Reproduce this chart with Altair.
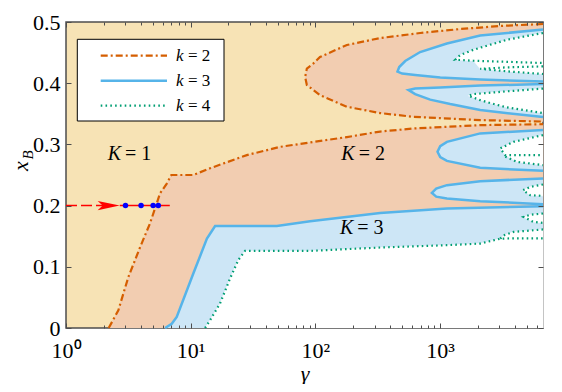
import altair as alt
import pandas as pd

# ------------------------------------------------------------------ data
G_MAX = 6700  # right end of gamma axis

# k = 2 boundary (dash-dot): lower-left edge and top of lower K=2 zone
K2_A_G = [2.2, 2.63, 3.16, 3.93, 4.72, 5.68, 6.43, 7.0, 10.5, 14.3, 28.2, 52.2, 179, 331, 610, 2100, 6700]
K2_A_X = [0.0, 0.029, 0.083, 0.132, 0.171, 0.220, 0.236, 0.250, 0.250, 0.261, 0.2825, 0.296, 0.312, 0.321, 0.326, 0.3315, 0.333]
# k = 2 C-shaped boundary (upper branch -> tip -> lower branch)
K2_C_G = [6700, 3041, 1452, 693, 331, 179, 109, 96.6, 85.5, 82.8, 85.5, 96.6, 109, 179, 331, 610, 2100, 6700]
K2_C_X = [0.4967, 0.4935, 0.4885, 0.482, 0.4738, 0.4624, 0.4428, 0.4324, 0.424, 0.41, 0.397, 0.3888, 0.3806, 0.3615, 0.3512, 0.3451, 0.3397, 0.3373]

# k = 3 boundaries (solid)
K3_MAIN_G = [6.23, 7.05, 7.73, 10.5, 13.5, 15.7, 49.1, 90.8, 331, 1136, 6700]
K3_MAIN_X = [0.0, 0.007, 0.018, 0.089, 0.146, 0.1667, 0.1667, 0.1745, 0.188, 0.1953, 0.199]
K3_A_G = [6700, 2100, 1136, 932, 861, 932, 1136, 2100, 6700]
K3_A_X = [0.2444, 0.2399, 0.2334, 0.2277, 0.2208, 0.2146, 0.2116, 0.2072, 0.2023]
K3_B_G = [6700, 2100, 1136, 1004, 955, 1004, 1136, 2100, 6700]
K3_B_X = [0.3234, 0.318, 0.3042, 0.2972, 0.2879, 0.2792, 0.2731, 0.2617, 0.2568]
K3_C_G = [6700, 2100, 1004, 632, 559, 632, 834, 1207, 2100, 6700]
K3_C_X = [0.3986, 0.3961, 0.3929, 0.3912, 0.3888, 0.3822, 0.3732, 0.3659, 0.3561, 0.3446]
K3_D_G = [6700, 2100, 1136, 693, 526, 471, 456, 497, 632, 1004, 2100, 6700]
K3_D_X = [0.4877, 0.4779, 0.4648, 0.4509, 0.4362, 0.4264, 0.419, 0.4158, 0.4133, 0.4092, 0.406, 0.4027]

# k = 4 boundaries (dotted)
K4_MAIN_G = [13.05, 14.3, 17.2, 20.7, 24.1, 27.3, 90.8, 331, 1136, 2100, 3041, 3890, 6700]
K4_MAIN_X = [0.0, 0.0126, 0.040, 0.081, 0.111, 0.126, 0.126, 0.1315, 0.1353, 0.138, 0.1459, 0.1465, 0.1465]
K4_FINGER_G = [3041, 3300, 3890, 6700]
K4_FINGER_X = [0.1459, 0.152, 0.157, 0.161]
K4_E_G = [6700, 5297, 4677, 5598, 6700]
K4_E_X = [0.1871, 0.185, 0.1815, 0.1734, 0.1717]
K4_A_G = [6700, 5297, 4627, 5297, 6700]
K4_A_X = [0.2345, 0.2306, 0.2252, 0.217, 0.2159]
K4_B_G = [6700, 3890, 3041, 3337, 6700]
K4_B_X = [0.3152, 0.3042, 0.2934, 0.2825, 0.2825]
K4_B2_G = [3337, 4142, 6700]
K4_B2_X = [0.280, 0.2715, 0.2661]
K4_C_G = [6700, 3443, 1857, 1693, 2100, 2529, 3443, 6700]
K4_C_X = [0.3912, 0.3867, 0.3822, 0.3795, 0.3724, 0.3675, 0.3605, 0.3512]
K4_D_G = [6700, 3443, 1857, 1452, 1324, 1857, 6700]
K4_D_X = [0.482, 0.471, 0.4547, 0.446, 0.4383, 0.4367, 0.433]
K4_D2_G = [6700, 3443, 2100, 3443, 6700]
K4_D2_X = [0.4275, 0.4259, 0.4236, 0.4194, 0.415]

# region labels  "K = n"
LABEL_VAR = ["K", "K", "K"]
LABEL_REST = ["= 1", "= 2", "= 3"]
LABEL_G = [3.26, 244, 238]
LABEL_X = [0.285, 0.285, 0.163]

# trajectory at x_B = 0.2
TRAJ_X = 0.2
TRAJ_DASH_G = [1.0, 2.2]
TRAJ_SOLID_G = [2.7, 6.8]
ARROW_G = [2.2]
DOTS_G = [3.0, 4.0, 5.0, 5.5]

LEGEND_VAR = "k"
LEGEND_REST = ["= 2", "= 3", "= 4"]

X_MAJOR = [1, 10, 100, 1000]
X_MINOR = [2, 3, 4, 5, 6, 7, 8, 9, 20, 30, 40, 50, 60, 70, 80, 90,
           200, 300, 400, 500, 600, 700, 800, 900, 2000, 3000, 4000, 5000, 6000]
Y_TICKS = [0, 0.1, 0.2, 0.3, 0.4, 0.5]

# ------------------------------------------------------------------ style
TAN = "#F7E3B5"
SALMON = "#F2CDB1"
LBLUE = "#CDE6F6"
ORANGE = "#D55E00"
BLUE = "#56B4E9"
GREEN = "#009E73"
FRAME = "#4d4d4d"
FONT = "Liberation Serif"
DASH_K2 = [7, 3, 2, 3]
DASH_K4 = [1.6, 3.2]


def frame(curves):
    rows = []
    for cid, gs, xs in curves:
        for i, (g, x) in enumerate(zip(gs, xs)):
            rows.append({"id": cid, "g": g, "x": x, "i": i})
    return pd.DataFrame(rows)


XS = alt.Scale(type="log", domain=[1, G_MAX], nice=False)
YS = alt.Scale(domain=[0, 0.5], nice=False, zero=False)


def xy(ax=None, ay=None):
    return dict(x=alt.X("g:Q", scale=XS, axis=ax), y=alt.Y("x:Q", scale=YS, axis=ay))


def tick_axis(values, orient, size):
    return alt.Axis(values=values, orient=orient, offset=-size, tickSize=size,
                    labels=False, domain=False, grid=False, title=None,
                    tickColor=FRAME, tickWidth=1, zindex=1)


ax_x_labels = alt.Axis(values=X_MAJOR, orient="bottom",
                       labelExpr="datum.value == 1 ? '10⁰' : datum.value == 10 ? '10¹' : datum.value == 100 ? '10²' : '10³'",
                       labelFont=FONT, labelFontSize=22, labelColor="black", labelPadding=12,
                       labelFlush=False, labelOverlap=False,
                       ticks=False, tickSize=0, domain=False, grid=False,
                       title="γ", titleFont=FONT, titleFontSize=22, titleFontStyle="italic",
                       titleFontWeight="normal", titleColor="black", titleY=52,
                       titleBaseline="alphabetic")
ax_y_labels = alt.Axis(values=Y_TICKS, orient="left",
                       labelExpr="datum.value == 0 ? '0' : format(datum.value, '.1f')",
                       labelFont=FONT, labelFontSize=22, labelColor="black", labelPadding=6,
                       labelFlush=False, labelOverlap=False,
                       ticks=False, tickSize=0, domain=False, grid=False, title=None)

# ------------------------------------------------------------------ fills
salmon_df = frame([
    ("a", K2_A_G + [G_MAX], K2_A_X + [0.0]),
    ("c", K2_C_G, K2_C_X),
])
blue_df = frame([
    ("m", K3_MAIN_G + [G_MAX], K3_MAIN_X + [0.0]),
    ("a", K3_A_G, K3_A_X), ("b", K3_B_G, K3_B_X),
    ("c", K3_C_G, K3_C_X), ("d", K3_D_G, K3_D_X),
])
white_df = frame([
    ("m", K4_MAIN_G[:11] + K4_FINGER_G[1:] + [G_MAX], K4_MAIN_X[:11] + K4_FINGER_X[1:] + [0.0]),
    ("e", K4_E_G, K4_E_X), ("a", K4_A_G, K4_A_X),
    ("b", K4_B_G[:4] + K4_B2_G[1:], K4_B_X[:4] + K4_B2_X[1:]),
    ("c", K4_C_G, K4_C_X),
    ("d", K4_D_G[:6] + K4_D2_G[2:], K4_D_X[:6] + K4_D2_X[2:]),
])


def fill_layer(df, color, ax=None, ay=None):
    return alt.Chart(df).mark_line(fill=color, color=color, strokeWidth=0.6).encode(
        **xy(ax, ay), detail="id:N", order="i:Q")


salmon = fill_layer(salmon_df, SALMON, ax_x_labels, ax_y_labels)
blue = fill_layer(blue_df, LBLUE, tick_axis(X_MAJOR, "bottom", 5), tick_axis(Y_TICKS, "left", 5))
white = fill_layer(white_df, "white", tick_axis(X_MINOR, "bottom", 3), tick_axis(Y_TICKS, "right", 5))

# ------------------------------------------------------------------ lines
k2_df = frame([("a", K2_A_G, K2_A_X), ("c", K2_C_G, K2_C_X)])
k3_df = frame([("m", K3_MAIN_G, K3_MAIN_X), ("a", K3_A_G, K3_A_X), ("b", K3_B_G, K3_B_X),
               ("c", K3_C_G, K3_C_X), ("d", K3_D_G, K3_D_X)])
k4_df = frame([("m", K4_MAIN_G, K4_MAIN_X), ("f", K4_FINGER_G, K4_FINGER_X),
               ("e", K4_E_G, K4_E_X), ("a", K4_A_G, K4_A_X),
               ("b", K4_B_G, K4_B_X), ("b2", K4_B2_G, K4_B2_X),
               ("c", K4_C_G, K4_C_X), ("d", K4_D_G, K4_D_X), ("d2", K4_D2_G, K4_D2_X)])

k2_lines = alt.Chart(k2_df).mark_line(color=ORANGE, strokeDash=DASH_K2, strokeWidth=2.2).encode(
    **xy(tick_axis(X_MAJOR, "top", 5)), detail="id:N", order="i:Q")
k3_lines = alt.Chart(k3_df).mark_line(color=BLUE, strokeWidth=2.5).encode(
    **xy(tick_axis(X_MINOR, "top", 3)), detail="id:N", order="i:Q")
k4_lines = alt.Chart(k4_df).mark_line(color=GREEN, strokeDash=DASH_K4, strokeWidth=2.2,
                                      strokeCap="butt").encode(
    **xy(), detail="id:N", order="i:Q")

# ------------------------------------------------------------------ trajectory
dash_df = pd.DataFrame({"g": TRAJ_DASH_G, "x": [TRAJ_X] * len(TRAJ_DASH_G)})
solid_df = pd.DataFrame({"g": TRAJ_SOLID_G, "x": [TRAJ_X] * len(TRAJ_SOLID_G)})
arrow_df = pd.DataFrame({"g": ARROW_G, "x": [TRAJ_X]})
dots_df = pd.DataFrame({"g": DOTS_G, "x": [TRAJ_X] * len(DOTS_G)})

traj_dash = alt.Chart(dash_df).mark_line(color="#FF0000", strokeWidth=1.5, strokeDash=[11, 4]).encode(**xy())
traj_solid = alt.Chart(solid_df).mark_line(color="#FF0000", strokeWidth=1.5).encode(**xy())
arrow = alt.Chart(arrow_df).mark_point(shape="M1,0L-1,-0.42L-0.55,0L-1,0.42Z", filled=True,
                                       color="#FF0000", opacity=1, size=484).encode(**xy())
dots = alt.Chart(dots_df).mark_circle(color="#0000FF", opacity=1, size=30).encode(**xy())

# ------------------------------------------------------------------ labels
lab_df = pd.DataFrame({"g": LABEL_G, "x": LABEL_X, "v": LABEL_VAR, "r": LABEL_REST})
labels_var = alt.Chart(lab_df).mark_text(font=FONT, fontSize=20, fontStyle="italic", color="black",
                                         align="right", baseline="middle", dx=-9).encode(**xy(), text="v:N")
labels_rest = alt.Chart(lab_df).mark_text(font=FONT, fontSize=20, color="black",
                                          align="left", baseline="middle", dx=-5).encode(**xy(), text="r:N")

one = pd.DataFrame({"a": [0]})
ytitle_x = alt.Chart(one).mark_text(text="x", font=FONT, fontSize=22, fontStyle="italic", angle=270,
                                    align="center", baseline="alphabetic", color="black").encode(
    x=alt.value(-38), y=alt.value(144))
ytitle_b = alt.Chart(one).mark_text(text="B", font=FONT, fontSize=15, fontStyle="italic", angle=270,
                                    align="center", baseline="alphabetic", color="black").encode(
    x=alt.value(-33), y=alt.value(133))

# ------------------------------------------------------------------ legend (manual box)
leg_box = alt.Chart(one).mark_rect(fill="white", stroke="black", strokeWidth=1).encode(
    x=alt.value(11.3), x2=alt.value(158), y=alt.value(17.3), y2=alt.value(99))
leg_styles = [dict(color=ORANGE, strokeDash=DASH_K2, strokeWidth=2.2),
              dict(color=BLUE, strokeWidth=2.5),
              dict(color=GREEN, strokeDash=DASH_K4, strokeWidth=2.2, strokeCap="butt")]
leg_layers = [leg_box]
for j, (rest, st) in enumerate(zip(LEGEND_REST, leg_styles)):
    yy = 33.7 + 25 * j
    leg_layers.append(alt.Chart(one).mark_rule(**st).encode(
        x=alt.value(34.7), x2=alt.value(101), y=alt.value(yy)))
    leg_layers.append(alt.Chart(one).mark_text(text=LEGEND_VAR, font=FONT, fontSize=17, fontStyle="italic",
                                               align="left", baseline="middle", color="black").encode(
        x=alt.value(110), y=alt.value(yy)))
    leg_layers.append(alt.Chart(one).mark_text(text=rest, font=FONT, fontSize=17,
                                               align="left", baseline="middle", color="black").encode(
        x=alt.value(122), y=alt.value(yy)))

chart = alt.layer(
    salmon, blue, white, k2_lines, k3_lines, k4_lines,
    traj_dash, traj_solid, arrow, dots, labels_var, labels_rest, ytitle_x, ytitle_b, *leg_layers
).resolve_axis(x="independent", y="independent").properties(
    width=477, height=306,
    autosize=alt.AutoSizeParams(type="none"),
    padding={"left": 58, "top": 14, "right": 11, "bottom": 56},
).configure_view(fill=TAN, stroke=FRAME, strokeWidth=1.5)

chart.save("out.html", embed_options={"renderer": "svg", "actions": False})
